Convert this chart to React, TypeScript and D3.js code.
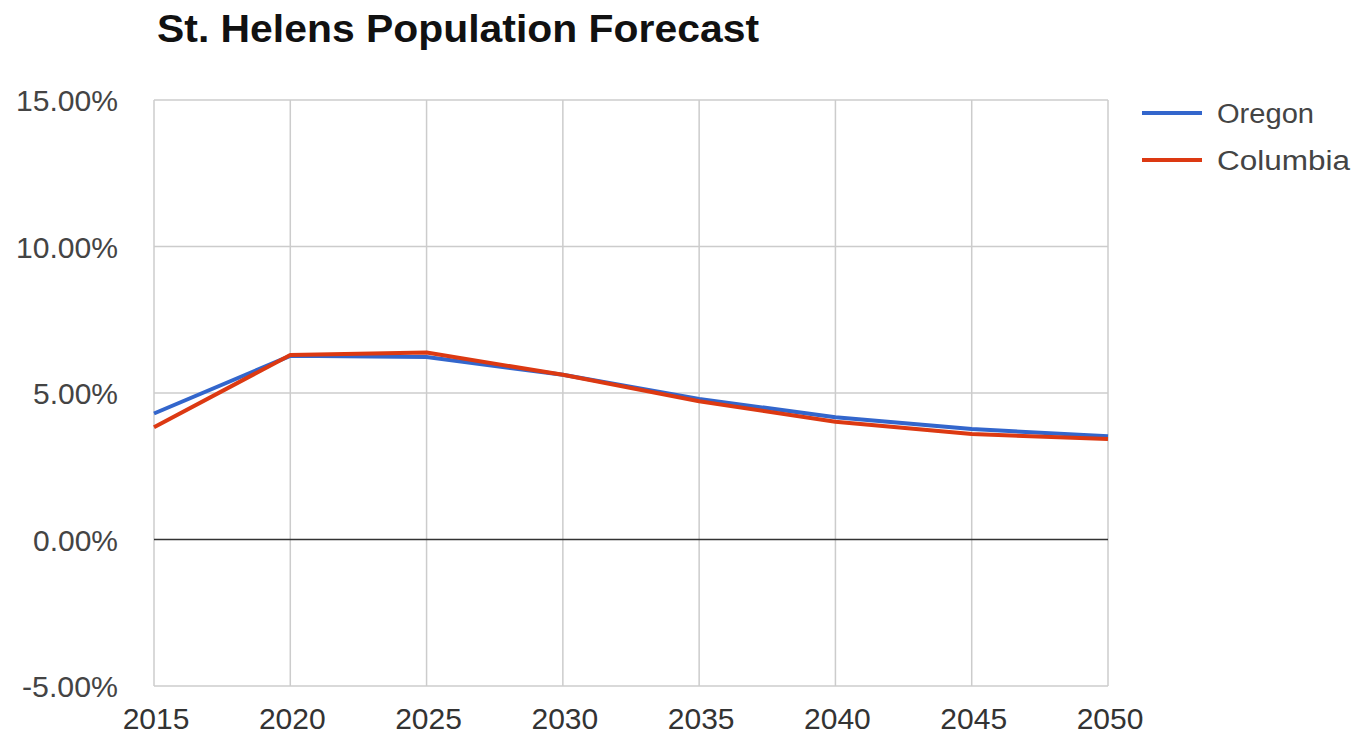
import React from "react";
import * as d3 from "d3";

const years = [2015, 2020, 2025, 2030, 2035, 2040, 2045, 2050];
const oregon = [4.3, 6.27, 6.23, 5.62, 4.8, 4.17, 3.77, 3.52];
const columbia = [3.83, 6.3, 6.38, 5.62, 4.72, 4.02, 3.6, 3.43];
const yTicks = [-5, 0, 5, 10, 15];
const seriesNames = ["Oregon", "Columbia"];
const colors = ["#3366cc", "#dc3912"];

export default function App() {
  const W = 1357, H = 735;
  const left = 154, right = 1108, top = 100, bottom = 686;
  const x = d3.scaleLinear().domain([2015, 2050]).range([left, right]);
  const y = d3.scaleLinear().domain([-5, 15]).range([bottom, top]);
  const line = d3.line<number>().x((_, i) => x(years[i])).y((d) => y(d));
  const series = [oregon, columbia];
  const font = "Arial, 'Liberation Sans', sans-serif";
  const legendW = [97, 133];
  return (
    <svg width={W} height={H} style={{ position: "absolute", left: 0, top: 0, background: "#fff" }} fontFamily={font}>
      <text x={157} y={42} fontSize={39} fontWeight="bold" fill="#111" textLength={602} lengthAdjust="spacingAndGlyphs">St. Helens Population Forecast</text>
      {years.map((yr) => (
        <line key={"v" + yr} x1={x(yr)} x2={x(yr)} y1={top} y2={bottom} stroke="#cccccc" strokeWidth={1.5} />
      ))}
      {yTicks.map((t) => (
        <line key={"h" + t} x1={left} x2={right} y1={y(t)} y2={y(t)} stroke={t === 0 ? "#333" : "#cccccc"} strokeWidth={1.5} />
      ))}
      {yTicks.map((t) => {
        const label = t.toFixed(2) + "%";
        const w = t < 0 ? 96 : label.length * 17;
        return (
          <text key={"yl" + t} x={118} y={y(t) + 11} fontSize={30} fill="#444" textAnchor="end"
            textLength={w} lengthAdjust="spacingAndGlyphs">{label}</text>
        );
      })}
      {years.map((yr) => (
        <text key={"xl" + yr} x={x(yr) + 2} y={729} fontSize={30} fill="#333" textAnchor="middle">{yr}</text>
      ))}
      {series.map((s, i) => (
        <path key={"s" + i} d={line(s) || ""} fill="none" stroke={colors[i]} strokeWidth={4} strokeLinejoin="round" />
      ))}
      {seriesNames.map((n, i) => (
        <g key={"lg" + n}>
          <line x1={1142} x2={1202} y1={113 + i * 47} y2={113 + i * 47} stroke={colors[i]} strokeWidth={4} />
          <text x={1217} y={123 + i * 47} fontSize={27} fill="#444" textLength={legendW[i]} lengthAdjust="spacingAndGlyphs">{n}</text>
        </g>
      ))}
    </svg>
  );
}
